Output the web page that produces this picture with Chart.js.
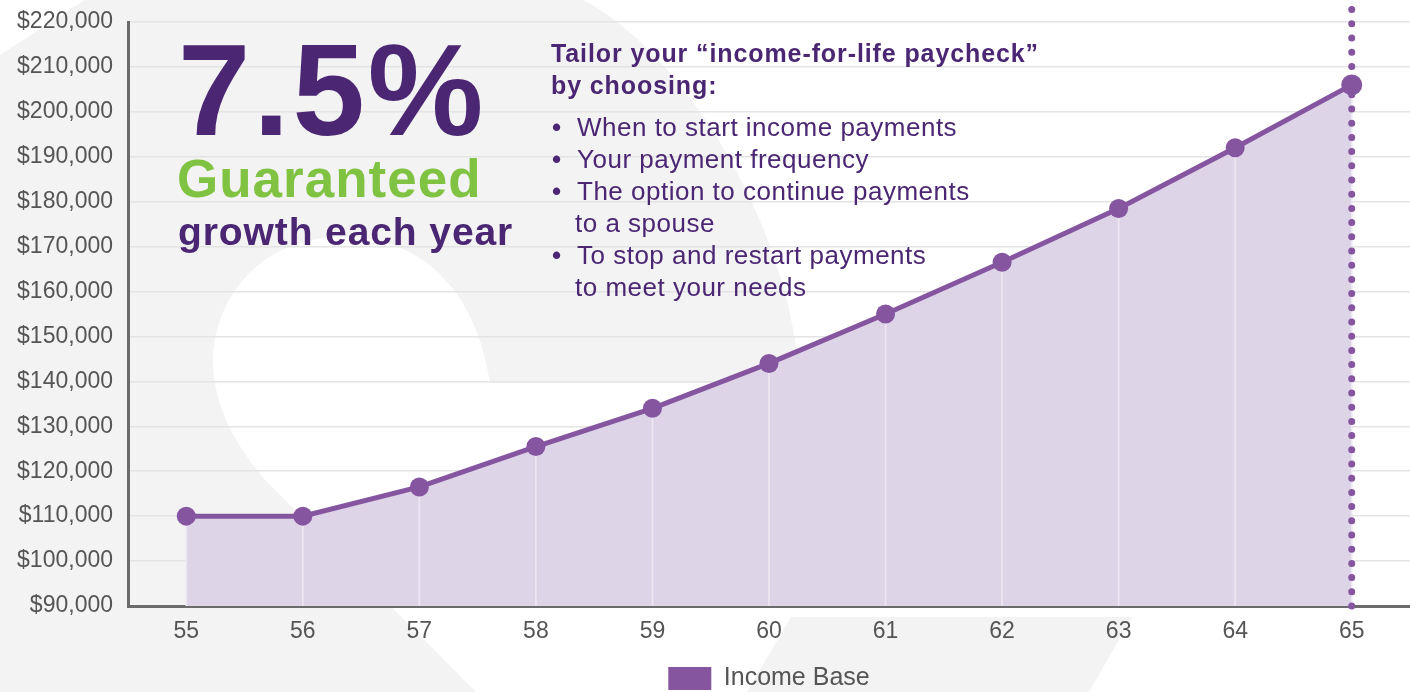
<!DOCTYPE html>
<html>
<head>
<meta charset="utf-8">
<script src="https://cdn.jsdelivr.net/npm/chart.js@4.4.1/dist/chart.umd.min.js"></script>
<style>
  html, body { margin: 0; padding: 0; background: #fff; }
  canvas { display: block; }
</style>
</head>
<body>
<canvas id="incomeChart" width="1410" height="692"></canvas>
<script>
// values
const ages = ['55', '56', '57', '58', '59', '60', '61', '62', '63', '64', '65'];
const incomeBase = [110000, 110000, 116500, 125500, 134000, 144000, 155000, 166500, 178500, 192000, 206000];
const seriesName = 'Income Base';
const yMin = 90000;
const yMax = 220000;
const yStep = 10000;

const headline = ['7.5%', 'Guaranteed', 'growth each year'];
const tailorTitle = ['Tailor your \u201cincome-for-life paycheck\u201d', 'by choosing:'];
const bullets = [
    ['When to start income payments'],
    ['Your payment frequency'],
    ['The option to continue payments', 'to a spouse'],
    ['To stop and restart payments', 'to meet your needs'],
];

const PURPLE = '#8555a0';
const DARK_PURPLE = '#4a2673';
const GREEN = '#80c342';
const FONT = "'Liberation Sans', Arial, Helvetica, sans-serif";

// big light grey logo shape behind the chart
const backdrop = {
    id: 'backdrop',
    beforeDraw(chart) {
        const ctx = chart.ctx;
        ctx.save();
        ctx.fillStyle = '#fff';
        ctx.fillRect(0, 0, chart.width, chart.height);
        ctx.fillStyle = '#f3f3f3';
        ctx.beginPath();
        ctx.moveTo(85, 0);
        ctx.lineTo(583, 0);
        ctx.bezierCurveTo(680, 50, 790, 220, 800, 383);
        ctx.lineTo(490, 383);
        ctx.bezierCurveTo(478, 300, 430, 237, 343, 237);
        ctx.bezierCurveTo(250, 237, 213, 310, 213, 360);
        ctx.bezierCurveTo(213, 410, 240, 450, 265, 480);
        ctx.lineTo(476, 692);
        ctx.lineTo(0, 692);
        ctx.lineTo(0, 55);
        ctx.closePath();
        ctx.fill();
        ctx.beginPath();
        ctx.moveTo(791, 617);
        ctx.lineTo(1132, 617);
        ctx.lineTo(1089, 692);
        ctx.lineTo(747, 692);
        ctx.closePath();
        ctx.fill();
        ctx.restore();
    }
};

// dotted marker at the last age
const ageMarker = {
    id: 'ageMarker',
    afterDatasetsDraw(chart) {
        const ctx = chart.ctx;
        const x = chart.scales.x.getPixelForValue(ages.length - 1);
        ctx.save();
        ctx.strokeStyle = PURPLE;
        ctx.lineWidth = 7;
        ctx.lineCap = 'round';
        ctx.setLineDash([0, 14.2]);
        ctx.beginPath();
        ctx.moveTo(x, chart.chartArea.bottom);
        ctx.lineTo(x, 0);
        ctx.stroke();
        ctx.restore();
    }
};

function drawText(ctx, text, x, y, font, color, spacing) {
    ctx.font = font;
    ctx.fillStyle = color;
    ctx.letterSpacing = spacing || '0px';
    ctx.fillText(text, x, y);
}

const callouts = {
    id: 'callouts',
    afterDraw(chart) {
        const ctx = chart.ctx;
        ctx.save();
        ctx.textAlign = 'left';
        ctx.textBaseline = 'alphabetic';
        drawText(ctx, headline[0], 178, 135, 'bold 130px ' + FONT, DARK_PURPLE, '3px');
        drawText(ctx, headline[1], 177, 197, 'bold 53px ' + FONT, GREEN, '1px');
        drawText(ctx, headline[2], 178, 245, 'bold 39px ' + FONT, DARK_PURPLE, '0.9px');

        drawText(ctx, tailorTitle[0], 551, 62, 'bold 25px ' + FONT, DARK_PURPLE, '0.9px');
        drawText(ctx, tailorTitle[1], 551, 94, 'bold 25px ' + FONT, DARK_PURPLE, '0.9px');

        let y = 136;
        bullets.forEach(lines => {
            lines.forEach((line, i) => {
                if (i === 0) {
                    drawText(ctx, '\u2022', 552, y, 'bold 26px ' + FONT, DARK_PURPLE);
                    drawText(ctx, line, 577, y, '26px ' + FONT, DARK_PURPLE, '0.5px');
                } else {
                    drawText(ctx, line, 575, y, '26px ' + FONT, DARK_PURPLE, '0.5px');
                }
                y += 32;
            });
        });
        ctx.restore();
    }
};

const ctx = document.getElementById('incomeChart');
new Chart(ctx, {
    type: 'line',
    data: {
        labels: ages,
        datasets: [
            {
                // line with markers
                label: seriesName,
                data: incomeBase,
                borderColor: PURPLE,
                borderWidth: 5,
                backgroundColor: PURPLE,
                pointBackgroundColor: PURPLE,
                pointBorderWidth: 0,
                pointRadius: c => c.dataIndex === ages.length - 1 ? 10.5 : 9.5,
                fill: false,
                tension: 0,
                clip: false,
                order: 1,
            },
            {
                // thin drop lines under each point
                type: 'bar',
                label: '',
                data: incomeBase,
                backgroundColor: '#ece7f2',
                barThickness: 1,
                order: 2,
            },
            {
                // shaded area
                label: '',
                data: incomeBase,
                borderWidth: 0,
                pointRadius: 0,
                backgroundColor: '#ddd4e8',
                fill: 'start',
                tension: 0,
                order: 3,
            },
        ]
    },
    options: {
        responsive: false,
        animation: false,
        layout: { autoPadding: false, padding: { top: 22, left: 0, right: 0, bottom: -9 } },
        plugins: {
            tooltip: { enabled: false },
            legend: {
                position: 'bottom',
                fullSize: false,
                labels: {
                    boxWidth: 43,
                    boxHeight: 23,
                    padding: 6,
                    color: '#555',
                    font: { family: FONT, size: 25 },
                    generateLabels: () => [{
                        text: seriesName,
                        fillStyle: PURPLE,
                        strokeStyle: PURPLE,
                        fontColor: '#555',
                        lineWidth: 0,
                        hidden: false,
                        datasetIndex: 0,
                    }],
                },
            },
        },
        scales: {
            x: {
                type: 'category',
                offset: true,
                grid: { display: false, drawTicks: false },
                border: { display: true, color: '#6b6b6b', width: 3 },
                ticks: {
                    color: '#555',
                    padding: 12,
                    font: { family: FONT, size: 23 },
                },
                afterFit: scale => {
                    scale.height = 54;
                    scale.paddingLeft = 0;
                    scale.paddingRight = 0;
                },
            },
            y: {
                min: yMin,
                max: yMax,
                grid: { color: '#e4e4e4', lineWidth: 1.5, drawTicks: false },
                border: { display: true, color: '#6b6b6b', width: 3 },
                ticks: {
                    stepSize: yStep,
                    maxTicksLimit: 20,
                    color: '#555',
                    padding: 15,
                    font: { family: FONT, size: 23 },
                    callback: v => '$' + v.toLocaleString('en-US'),
                },
                afterFit: scale => {
                    scale.width = 128;
                    scale.paddingTop = 0;
                    scale.paddingBottom = 0;
                },
            },
        },
    },
    plugins: [backdrop, ageMarker, callouts],
});
</script>
</body>
</html>
